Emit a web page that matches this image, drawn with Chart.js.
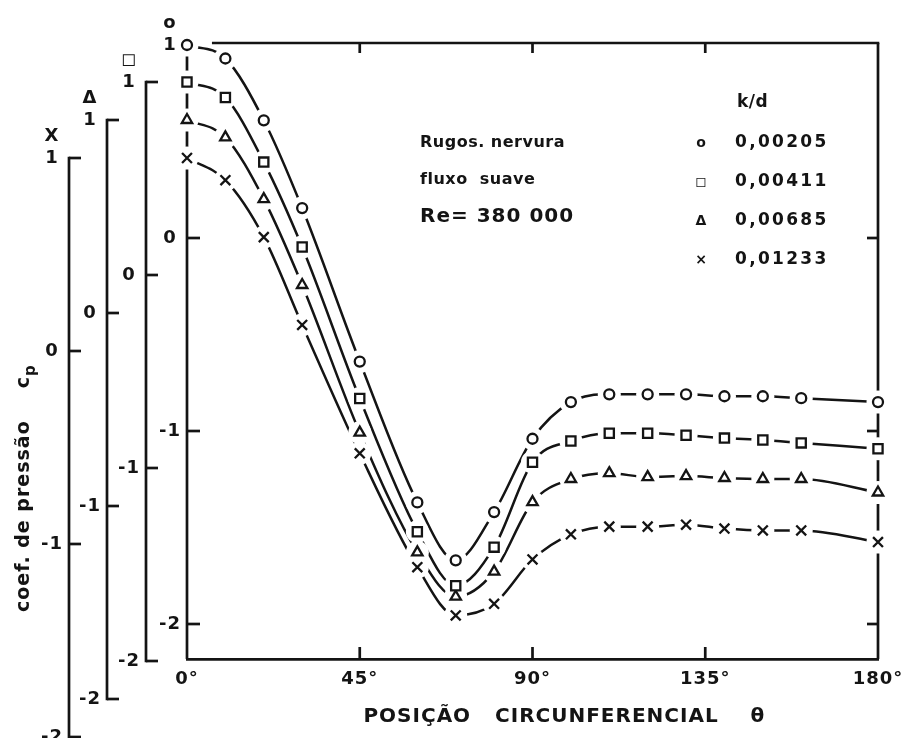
<!DOCTYPE html>
<html>
<head>
<meta charset="utf-8">
<script src="https://cdn.jsdelivr.net/npm/chart.js@4.4.1/dist/chart.umd.min.js"></script>
<style>
html,body{margin:0;padding:0;background:#ffffff;}
#wrap{width:906px;height:738px;}
</style>
</head>
<body>
<div id="wrap"><canvas id="c" width="906" height="738"></canvas></div>
<script>
// ---- data ----
const theta = [0, 10, 20, 30, 45, 60, 70, 80, 90, 100, 110, 120, 130, 140, 150, 160, 180];
const cpCircle   = [1.00, 0.93, 0.61, 0.155, -0.64, -1.37, -1.67, -1.42, -1.04, -0.85, -0.81, -0.81, -0.81, -0.82, -0.82, -0.83, -0.85];
const cpSquare   = [1.00, 0.92, 0.585, 0.145, -0.64, -1.33, -1.61, -1.41, -0.97, -0.86, -0.82, -0.82, -0.83, -0.845, -0.855, -0.87, -0.90];
const cpTriangle = [1.00, 0.91, 0.59, 0.145, -0.62, -1.24, -1.47, -1.34, -0.98, -0.86, -0.83, -0.85, -0.845, -0.855, -0.86, -0.86, -0.93];
const cpCross    = [1.00, 0.885, 0.59, 0.135, -0.53, -1.12, -1.37, -1.31, -1.08, -0.95, -0.91, -0.91, -0.90, -0.92, -0.93, -0.93, -0.99];

const xTickValues = [0, 45, 90, 135, 180];
const yTickValues = [-2, -1, 0, 1];
const kdValues = ['0,00205', '0,00411', '0,00685', '0,01233'];
const legendSymbols = ['o', '◻', 'Δ', '×'];
const axisSymbols = ['o', '◻', 'Δ', 'X'];
const legendTitle = 'k/d';
const noteLines = ['Rugos. nervura', 'fluxo  suave', 'Re= 380 000'];
const xTitle = '        POSIÇÃO   CIRCUNFERENCIAL    θ';
const yTitle = 'coef. de pressão';
const yTitleSymbol = 'c';
const yTitleSub = 'p';

// ---- styling ----
const INK = '#141414';
const FONT = 'DejaVu Sans';

function pts(arr) { return theta.map((t, i) => ({ x: t, y: arr[i] })); }

const series = [
  { data: cpCircle,   axis: 'yC', style: 'circle',   r: 5 },
  { data: cpSquare,   axis: 'yS', style: 'rect',     r: 6.5 },
  { data: cpTriangle, axis: 'yT', style: 'triangle', r: 6 },
  { data: cpCross,    axis: 'yX', style: 'crossRot', r: 7 }
];

const datasets = [];
series.forEach(s => {
  datasets.push({
    data: pts(s.data), yAxisID: s.axis, borderColor: INK, borderWidth: 2.5,
    pointRadius: 0, cubicInterpolationMode: 'monotone', fill: false, clip: false, order: 3
  });
  datasets.push({
    data: pts(s.data), yAxisID: s.axis, showLine: false, pointStyle: 'circle',
    pointRadius: 11.5, pointBackgroundColor: '#ffffff', pointBorderWidth: 0,
    pointBorderColor: '#ffffff', clip: false, order: 2
  });
  datasets.push({
    data: pts(s.data), yAxisID: s.axis, showLine: false, pointStyle: s.style,
    pointRadius: s.r, pointBackgroundColor: '#ffffff', pointBorderColor: INK,
    pointBorderWidth: 2.3, clip: false, order: 1
  });
});

function yScale(min, max, width, symbol) {
  return {
    type: 'linear', position: 'left', min: min, max: max,
    afterBuildTicks: s => { s.ticks = yTickValues.map(v => ({ value: v })); },
    afterFit: s => { s.width = width; },
    grid: { display: false, drawTicks: false },
    border: { display: false },
    ticks: {
      autoSkip: false, padding: 7, crossAlign: 'center', color: INK,
      font: { family: FONT, size: 18, weight: 'bold' },
      callback: v => (v === 1 ? [symbol, '1', ''] : String(v))
    }
  };
}

const axesPlugin = {
  id: 'axesDraw',
  beforeDraw(chart) {
    chart.ctx.letterSpacing = '1px';
  },
  beforeDatasetsDraw(chart) {
    const ctx = chart.ctx, ca = chart.chartArea, xs = chart.scales.x;
    const line = (x1, y1, x2, y2) => { ctx.beginPath(); ctx.moveTo(x1, y1); ctx.lineTo(x2, y2); ctx.stroke(); };
    ctx.save();
    ctx.strokeStyle = INK; ctx.lineWidth = 2.7; ctx.lineCap = 'butt';
    // main (circle) axis
    const yC = chart.scales.yC;
    line(ca.left, ca.top, ca.left, ca.bottom);
    [0, -1, -2].forEach(v => { const p = yC.getPixelForValue(v); line(ca.left, p, ca.left + 13, p); });
    // offset axes (brackets)
    ['yS', 'yT', 'yX'].forEach(id => {
      const s = chart.scales[id], xr = s.right;
      line(xr, s.getPixelForValue(1) - 1.3, xr, s.getPixelForValue(-2) + 1.3);
      yTickValues.forEach(v => { const p = s.getPixelForValue(v); line(xr, p, xr + 12, p); });
    });
    // right frame
    line(ca.right, ca.top, ca.right, ca.bottom);
    [0, -1, -2].forEach(v => { const p = yC.getPixelForValue(v); line(ca.right, p, ca.right - 11, p); });
    // top frame
    line(xs.getPixelForValue(6.5), ca.top, ca.right + 1.3, ca.top);
    [45, 90, 135].forEach(v => { const p = xs.getPixelForValue(v); line(p, ca.top, p, ca.top + 10); });
    // bottom ticks
    [45, 90, 135].forEach(v => { const p = xs.getPixelForValue(v); line(p, ca.bottom, p, ca.bottom - 12); });
    ctx.restore();
  },
  afterDraw(chart) {
    const ctx = chart.ctx;
    ctx.save();
    ctx.fillStyle = INK;
    ctx.textBaseline = 'middle';
    ctx.textAlign = 'left';
    // notes
    ctx.letterSpacing = '0.5px';
    ctx.font = 'bold 16px "' + FONT + '"';
    ctx.fillText(noteLines[0], 420, 143);
    ctx.fillText(noteLines[1], 420, 180);
    ctx.letterSpacing = '1px';
    ctx.font = 'bold 20px "' + FONT + '"';
    ctx.fillText(noteLines[2], 420, 217);
    // legend
    ctx.letterSpacing = '0.5px';
    ctx.font = 'bold 17px "' + FONT + '"';
    ctx.fillText(legendTitle, 737, 103);
    kdValues.forEach((t, i) => {
      const y = 143 + i * 39;
      ctx.letterSpacing = '0px';
      ctx.textAlign = 'center';
      ctx.font = 'bold 14px "' + FONT + '"';
      ctx.fillText(legendSymbols[i], 701, y);
      ctx.letterSpacing = '2.3px';
      ctx.textAlign = 'left';
      ctx.font = 'bold 17px "' + FONT + '"';
      ctx.fillText(t, 735, y);
    });
    // y title (rotated)
    ctx.letterSpacing = '1px';
    ctx.translate(24, 612);
    ctx.rotate(-Math.PI / 2);
    ctx.textAlign = 'left';
    ctx.font = 'bold 19px "' + FONT + '"';
    ctx.fillText(yTitle, 0, 0);
    const w = ctx.measureText(yTitle).width;
    const cx = w + 32;
    ctx.fillText(yTitleSymbol, cx, 0);
    const cw = ctx.measureText(yTitleSymbol).width;
    ctx.font = 'bold 15px "' + FONT + '"';
    ctx.fillText(yTitleSub, cx + cw, 7);
    ctx.restore();
    ctx.letterSpacing = '0px';
  }
};

new Chart(document.getElementById('c'), {
  type: 'line',
  data: { datasets: datasets },
  options: {
    responsive: false, animation: false, devicePixelRatio: 1,
    layout: { padding: { top: 43, right: 28, bottom: 0, left: 0 } },
    plugins: { legend: { display: false }, tooltip: { enabled: false }, title: { display: false } },
    scales: {
      x: {
        type: 'linear', position: 'bottom', min: 0, max: 180,
        afterBuildTicks: s => { s.ticks = xTickValues.map(v => ({ value: v })); },
        afterFit: s => { s.height = 79; s.paddingRight = 0; s.paddingLeft = 0; },
        grid: { display: false, drawTicks: false },
        border: { display: true, color: INK, width: 2.8 },
        ticks: { autoSkip: false, maxRotation: 0, padding: 10, color: INK,
                 font: { family: FONT, size: 18, weight: 'bold' }, callback: v => v + '°' },
        title: { display: true, text: xTitle, color: INK,
                 font: { family: FONT, size: 20, weight: 'bold' }, padding: { top: 0, bottom: 9 } }
      },
      yC: yScale(-2.1813, 1.0104, 41, axisSymbols[0]),
      yS: yScale(-1.9896, 1.2021, 39, axisSymbols[1]),
      yT: yScale(-1.7927, 1.3990, 38, axisSymbols[2]),
      yX: yScale(-1.5959, 1.5959, 69, axisSymbols[3])
    }
  },
  plugins: [axesPlugin]
});
</script>
</body>
</html>
